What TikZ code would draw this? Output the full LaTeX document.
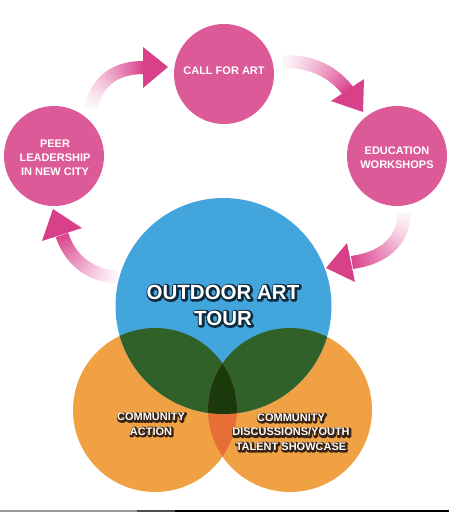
\documentclass[tikz,border=0pt]{standalone}
\usepackage{fontspec}
\setmainfont{Liberation Sans}
\newfontfamily\tourstroke[FakeBold=18]{Liberation Sans Bold}
\newfontfamily\comstroke[FakeBold=28]{Liberation Sans Bold}
\usetikzlibrary{calc}
\definecolor{circpink}{HTML}{DD5A98}
\definecolor{arrowpink}{HTML}{DC4690}
\definecolor{headpink}{HTML}{D9408A}
\definecolor{tourblue}{HTML}{42A5DC}
\definecolor{comorange}{HTML}{EFA144}
\definecolor{overgreen}{HTML}{2F6129}
\definecolor{triplegreen}{HTML}{1B3A0C}
\definecolor{overorange}{HTML}{E86E38}
\definecolor{blueoutline}{HTML}{0C2B3E}
\definecolor{brownoutline}{HTML}{3A2414}

\newcommand{\gradshaft}[8]{%
  \foreach \i in {0,...,39}{%
    \pgfmathsetmacro{\ta}{\i/40}%
    \pgfmathsetmacro{\tb}{min((\i+1.5)/40,1)}%
    \pgfmathtruncatemacro{\pc}{5+95*(\i/39)^1.2}%
    \draw[shaftseg, draw=arrowpink!\pc!white]
      ({(1-\ta)^3*#1+3*(1-\ta)^2*\ta*#3+3*(1-\ta)*\ta^2*#5+\ta^3*#7},
       {(1-\ta)^3*#2+3*(1-\ta)^2*\ta*#4+3*(1-\ta)*\ta^2*#6+\ta^3*#8})
      --
      ({(1-\tb)^3*#1+3*(1-\tb)^2*\tb*#3+3*(1-\tb)*\tb^2*#5+\tb^3*#7},
       {(1-\tb)^3*#2+3*(1-\tb)^2*\tb*#4+3*(1-\tb)*\tb^2*#6+\tb^3*#8});
  }%
}

% #1 name, #2 position, #3 outline colour, #4 white style, #5 stroke style, #6 text
\newcommand{\outlinetext}[6]{%
  \node[#5, text=#3, line join=round] at ($(#2)+(0.8,0.8)$) {#6};
  \node[#4, text=white] (#1) at (#2) {#6};
}

\begin{document}
\begin{tikzpicture}[x=1pt,y=-1pt,
  stagecircle/.style={circle, fill=circpink, minimum size=100pt, inner sep=0pt},
  stagetext/.style={text=white, align=center, inner sep=0pt,
    font=\fontsize{11}{14}\selectfont\bfseries},
  shaftseg/.style={line width=13pt, line cap=butt},
  arrowhead/.style={fill=headpink},
  tourtext/.style={align=center, inner sep=0pt,
    font=\fontsize{20.5}{26}\selectfont\bfseries},
  tourshadow/.style={align=center, inner sep=0pt,
    font=\fontsize{20.5}{26}\selectfont\tourstroke},
  comtext/.style={align=center, inner sep=0pt,
    font=\fontsize{11}{14.5}\selectfont\bfseries},
  comshadow/.style={align=center, inner sep=0pt,
    font=\fontsize{11}{14.5}\selectfont\comstroke}]
\useasboundingbox (0,0) rectangle (449,512);

% curved arrows
\gradshaft{91}{108}{98}{78}{118}{67.5}{144}{67.5}
\coordinate (h1tip) at (168,67);
\fill[arrowhead] (h1tip) -- (143,47) -- (143,88) -- cycle;

\gradshaft{283}{62}{310}{60}{334}{72}{348}{91}
\coordinate (h2tip) at (363,112);
\fill[arrowhead] (h2tip) -- (331,101) -- (364,79) -- cycle;

\gradshaft{404}{213}{404}{240}{385}{258}{352}{262.5}
\coordinate (h3tip) at (326,268);
\fill[arrowhead] (h3tip) -- (347,243) -- (355,282) -- cycle;

\gradshaft{118}{277}{92}{276}{71}{262}{62}{235}
\coordinate (h4tip) at (53,209);
\fill[arrowhead] (h4tip) -- (42,241) -- (82,228) -- cycle;

% stage circles
\node[stagecircle] (call) at (224,74) {};
\node[stagetext] (callt) at (224,71) {CALL FOR ART};
\node[stagecircle] (peer) at (54,156) {};
\node[stagetext] (peert) at (55,158) {PEER\\LEADERSHIP\\IN NEW CITY};
\node[stagecircle] (edu) at (397,156) {};
\node[stagetext] (edut) at (397,158) {EDUCATION\\WORKSHOPS};

% venn circles
\fill[comorange] (155,410) circle (82);
\fill[comorange] (290,410) circle (82);
\fill[tourblue] (223.5,306) circle (108);
\begin{scope}
  \clip (223.5,306) circle (108);
  \fill[overgreen] (155,410) circle (82);
  \fill[overgreen] (290,410) circle (82);
\end{scope}
\begin{scope}
  \clip (155,410) circle (82);
  \fill[overorange] (290,410) circle (82);
\end{scope}
\begin{scope}
  \clip (223.5,306) circle (108);
  \clip (155,410) circle (82);
  \fill[triplegreen] (290,410) circle (82);
\end{scope}

% venn labels
\outlinetext{tour}{223,305}{blueoutline}{tourtext}{tourshadow}{OUTDOOR ART\\TOUR}
\outlinetext{action}{151,424}{brownoutline}{comtext}{comshadow}{COMMUNITY\\ACTION}
\outlinetext{discuss}{291,432}{brownoutline}{comtext}{comshadow}{COMMUNITY\\DISCUSSIONS/YOUTH\\TALENT SHOWCASE}

% bottom edge rule
\draw[line width=1.5pt, draw=black!40] (0,511.2) -- (137,511.2);
\draw[line width=1.5pt, draw=black!70] (137,511.2) -- (175,511.2);
\draw[line width=1.5pt, draw=black] (175,511.2) -- (449,511.2);
\end{tikzpicture}
\end{document}
